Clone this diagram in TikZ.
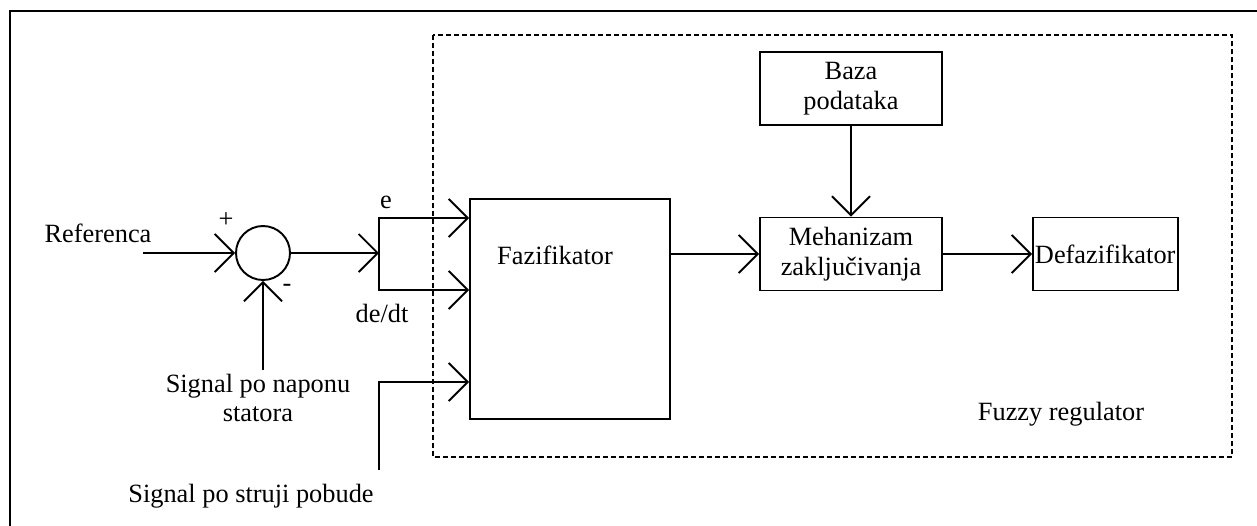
\documentclass[tikz,border=0pt]{standalone}
\usepackage{fontspec}
\setmainfont{Liberation Serif}
\usepackage{xcolor}
\usepackage{tikz}
\usetikzlibrary{calc,arrows.meta}
\definecolor{linijaCrna}{HTML}{000000}
\tikzset{
  blok/.style={rectangle, draw=linijaCrna, fill=white, line width=1.1pt, align=center, font=\fontsize{15}{17}\selectfont, inner sep=2pt},
  tekst/.style={font=\fontsize{15}{17}\selectfont, align=center, inner sep=0pt},
  sumator/.style={circle, draw=linijaCrna, line width=1.1pt, minimum size=1.08cm, inner sep=0pt},
  signal/.style={-{Straight Barb[length=0.38cm,width=0.76cm]}, line width=1.1pt, draw=linijaCrna},
  vod/.style={line width=1.1pt, draw=linijaCrna},
  regokvir/.style={draw=linijaCrna, line width=1.1pt, dash pattern=on 0.1cm off 0.06cm},
}

\begin{document}
\begin{tikzpicture}[x=0.02cm,y=-0.02cm]
  \useasboundingbox (0,0) rectangle (1257,525);
  % okvir slike i fuzzy regulator
  \begin{scope}
    \clip (0,0) rectangle (1257,525);
    \draw[line width=1.7pt] (10,11) rectangle (1280,560);
  \end{scope}
  \draw[regokvir] (433,35) rectangle (1232,457);

  % blokovi
  \node[blok, minimum width=3.64cm, minimum height=1.46cm] (baza) at (851,88.5) {Baza\\podataka};
  \node[blok, minimum width=3.64cm, minimum height=1.46cm] (meh) at (851,254) {Mehanizam\\zaklju\v{c}ivanja};
  \node[blok, minimum width=4cm, minimum height=4.4cm] (faz) at (570,309) {};
  \node[tekst] (fazt) at (555,255) {Fazifikator};
  \node[blok, anchor=west, minimum width=2.9cm, minimum height=1.46cm, inner xsep=0.04cm, align=left, text width=2.82cm] (defaz) at (1032,254) {Defazifikator};
  \node[sumator] (sum) at (263,253) {};

  % tekstovi
  \node[tekst] (ref) at (98,233) {Referenca};
  \node[tekst] (plus) at (226,220) {+};
  \node[tekst] (minus) at (287,288) {-};
  \node[tekst] (napon) at (258,398) {Signal po naponu\\statora};
  \node[tekst] (struja) at (251,496) {Signal po struji pobude};
  \node[tekst] (el) at (386,202) {e};
  \node[tekst] (del) at (382,313) {de/dt};
  \node[tekst] (fuzzy) at (1061,414) {Fuzzy regulator};

  % tacke grananja
  \coordinate (ulaz) at (143,253);
  \coordinate (grana) at (379,253);
  \coordinate (napdno) at (263,370);
  \coordinate (strdno) at (379,470);

  % veze
  \draw[signal] (ulaz) -- (sum.west);
  \draw[signal] (napdno) -- (sum.south);
  \draw[signal] (sum.east) -- (grana);
  \draw[signal] (grana) |- (faz.west |- 0,218);
  \draw[signal] (grana) |- (faz.west |- 0,290);
  \draw[signal] (strdno) |- (faz.west |- 0,382);
  \draw[signal] (faz.east |- meh.west) -- (meh.west);
  \draw[signal] (baza) -- (meh);
  \draw[signal] (meh) -- (defaz);
\end{tikzpicture}
\end{document}
